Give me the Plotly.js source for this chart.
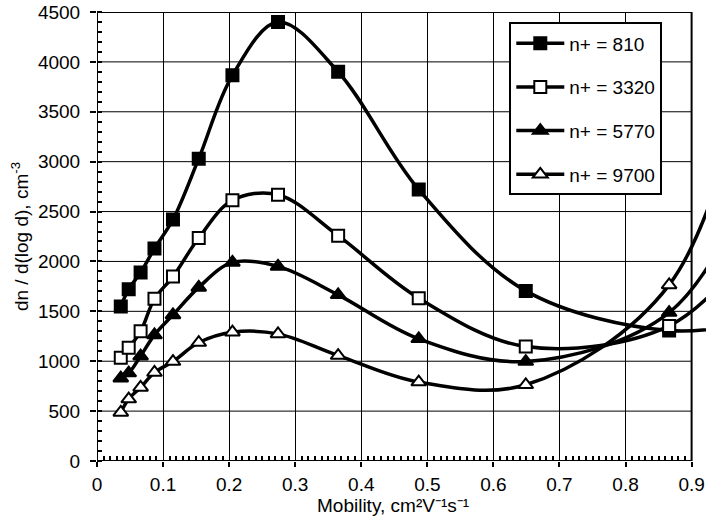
<!DOCTYPE html>
<html>
<head>
<meta charset="utf-8">
<script src="https://cdn.plot.ly/plotly-3.0.1.min.js"></script>
<style>
  body { margin: 0; background: #fff; }
  #chart { width: 706px; height: 519px; }
</style>
</head>
<body>
<div id="chart"></div>
<script>
// mobility channels (last one lies past the visible axis, the curves run off the right edge)
var mobility = [0.036, 0.048, 0.066, 0.087, 0.115, 0.154, 0.205, 0.274, 0.365, 0.487, 0.649, 0.866, 1.0];

var n810  = [1548, 1722, 1888, 2130, 2420, 3030, 3865, 4400, 3900, 2720, 1705, 1307, 1400];
var n3320 = [1034, 1134, 1300, 1625, 1848, 2235, 2613, 2669, 2258, 1632, 1147, 1354, 2200];
var n5770 = [830, 881, 1051, 1264, 1464, 1740, 1990, 1950, 1665, 1224, 997, 1488, 2900];
var n9700 = [487, 621, 737, 887, 997, 1187, 1291, 1274, 1057, 791, 764, 1765, 4300];

var names = ['n+ = 810', 'n+ = 3320', 'n+ = 5770', 'n+ = 9700'];
var series = [n810, n3320, n5770, n9700];
var symbols = ['square', 'square', 'triangle-up', 'triangle-up'];
var fills = ['#000', '#fff', '#000', '#fff'];

var font = 'Arial, "Liberation Sans", sans-serif';

var data = [];
for (var i = 0; i < series.length; i++) {
	data.push({
		x: mobility,
		y: series[i],
		name: names[i],
		legendgroup: 'g' + i,
		type: 'scatter',
		mode: 'lines+markers',
		line: {color: '#000', width: 3.5, shape: 'spline', smoothing: 1},
		marker: {
			symbol: symbols[i],
			size: symbols[i] == 'square' ? 12 : 13,
			color: fills[i],
			line: {color: '#000', width: 2}
		}
	});
}

// frame and horizontal grid stop at 0.9 like the original
var shapes = [];
for (var g = 500; g < 4500; g += 500) {
	shapes.push({type: 'line', xref: 'x', yref: 'y', x0: 0, x1: 0.9, y0: g, y1: g,
		line: {color: '#000', width: 1}, layer: 'below'});
}
shapes.push({type: 'rect', xref: 'x', yref: 'y', x0: 0, x1: 0.9, y0: 0, y1: 4500,
	line: {color: '#000', width: 2}, layer: 'above'});

var minorX = [];
for (var k = 1; k < 90; k++) {
	if (k % 10 != 0) minorX.push(k / 100);
}

var layout = {
	width: 706,
	height: 519,
	margin: {l: 97, r: 0, t: 12, b: 58},
	paper_bgcolor: '#fff',
	plot_bgcolor: '#fff',
	font: {family: font, size: 19, color: '#000'},
	showlegend: true,
	legend: {
		x: 0.677, y: 0.977, xanchor: 'left', yanchor: 'top',
		bgcolor: '#fff', bordercolor: '#000', borderwidth: 2,
		font: {family: font, size: 19, color: '#000'},
		itemwidth: 48,
		tracegroupgap: 16,
		traceorder: 'grouped'
	},
	xaxis: {
		range: [0, 0.9218],
		tickmode: 'array',
		tickvals: [0, 0.1, 0.2, 0.3, 0.4, 0.5, 0.6, 0.7, 0.8, 0.9],
		ticktext: ['0', '0.1', '0.2', '0.3', '0.4', '0.5', '0.6', '0.7', '0.8', '0.9'],
		ticks: 'outside', ticklen: 5, tickwidth: 2, tickcolor: '#000',
		ticklabelstandoff: 1,
		minor: {tickmode: 'array', tickvals: minorX, ticks: 'inside', ticklen: 5, tickwidth: 2, tickcolor: '#000', showgrid: false},
		showgrid: true, gridcolor: '#000', gridwidth: 1,
		zeroline: false, showline: false,
		tickfont: {size: 19}
	},
	yaxis: {
		range: [0, 4500],
		tick0: 0, dtick: 500,
		ticks: 'outside', ticklen: 6, tickwidth: 2, tickcolor: '#000',
		ticklabelstandoff: 6,
		minor: {dtick: 100, ticks: 'inside', ticklen: 5, tickwidth: 2, tickcolor: '#000', showgrid: false},
		showgrid: false,
		zeroline: false, showline: false,
		tickfont: {size: 19},
		title: {text: 'dn / d(log d), cm<sup>-3</sup>', font: {size: 19}, standoff: 4}
	},
	// x title sits a little left of the domain centre, right at the bottom edge
	// (unicode superscripts keep its box short so it clears the tick labels)
	annotations: [{
		text: 'Mobility, cm²V⁻¹s⁻¹',
		xref: 'x', yref: 'paper', x: 0.448, y: -0.1265,
		xanchor: 'center', yanchor: 'bottom', showarrow: false,
		font: {family: font, size: 19, color: '#000'}
	}],
	shapes: shapes
};

Plotly.newPlot('chart', data, layout, {displayModeBar: false, staticPlot: true});
</script>
</body>
</html>
